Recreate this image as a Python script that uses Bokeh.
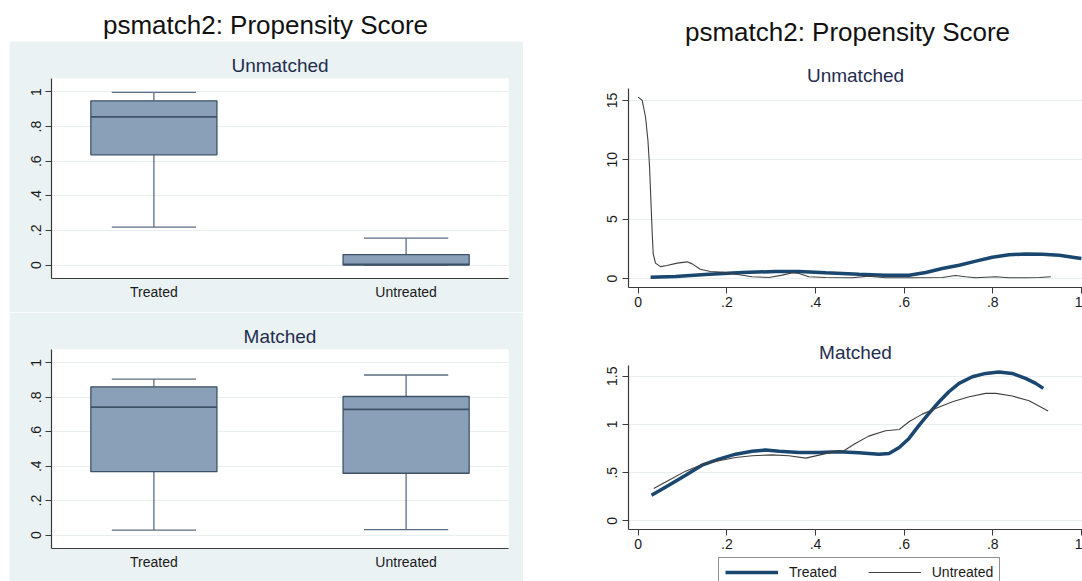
from bokeh.plotting import figure
from bokeh.layouts import row, column
from bokeh.models import Range1d, FixedTicker, Label, Legend, LegendItem, Spacer
from bokeh.embed import file_html
from bokeh.resources import INLINE

FONT = "Liberation Sans"
BG = "#eaf2f3"
GRID = "#e9eff1"
AXIS = "#3a3a3a"
TICKC = "#1a1a1a"
SUBC = "#1f2d4f"
BOX_FILL = "#8aa0b8"
BOX_LINE = "#3e5268"
WHISK = "#5a6d82"
NAVY = "#1a476f"
THIN = "#404040"

# ---------------- data ----------------
main_title = "psmatch2: Propensity Score"
panels = ["Unmatched", "Matched"]
groups = ["Treated", "Untreated"]
group_pos = [1, 2]

# box plot statistics (propensity score)
um_lo = [0.219, 0.0]
um_q1 = [0.637, 0.0]
um_med = [0.856, 0.004]
um_q3 = [0.949, 0.060]
um_hi = [0.998, 0.155]

m_lo = [0.029, 0.032]
m_q1 = [0.368, 0.359]
m_med = [0.743, 0.730]
m_q3 = [0.861, 0.805]
m_hi = [0.906, 0.930]

box_ticks = [0, 0.2, 0.4, 0.6, 0.8, 1]
box_tick_labels = ["0", ".2", ".4", ".6", ".8", "1"]

x_ticks = [0, 0.2, 0.4, 0.6, 0.8, 1]
x_tick_labels = ["0", ".2", ".4", ".6", ".8", "1"]
um_y_ticks = [0, 5, 10, 15]
um_y_tick_labels = ["0", "5", "10", "15"]
m_y_ticks = [0, 0.5, 1, 1.5]
m_y_tick_labels = ["0", ".5", "1", "1.5"]

# kernel densities, unmatched
um_treat_x = [0.028, 0.084, 0.16, 0.235, 0.31, 0.363, 0.423, 0.498, 0.558, 0.611,
              0.649, 0.686, 0.724, 0.762, 0.799, 0.837, 0.874, 0.912, 0.95, 0.984, 1.0]
um_treat_y = [0.11, 0.17, 0.36, 0.50, 0.59, 0.59, 0.48, 0.36, 0.28, 0.28,
              0.50, 0.84, 1.12, 1.46, 1.79, 1.99, 2.07, 2.05, 1.96, 1.77, 1.68]
um_untr_x = [0.0, 0.009, 0.0165, 0.022, 0.0256, 0.0286, 0.0316, 0.0338, 0.039, 0.05,
             0.065, 0.088, 0.11, 0.122, 0.14, 0.163, 0.193, 0.22, 0.257, 0.295,
             0.325, 0.348, 0.363, 0.385, 0.423, 0.483, 0.52, 0.558, 0.611, 0.686,
             0.716, 0.739, 0.762, 0.807, 0.837, 0.874, 0.905, 0.931]
um_untr_y = [15.28, 15.0, 13.6, 11.6, 9.4, 6.6, 3.8, 2.1, 1.29, 1.0,
             1.09, 1.29, 1.40, 1.23, 0.78, 0.59, 0.53, 0.36, 0.14, 0.08,
             0.28, 0.48, 0.42, 0.14, 0.08, 0.06, 0.20, 0.06, 0.06, 0.08,
             0.25, 0.14, 0.06, 0.14, 0.06, 0.06, 0.08, 0.14]

# kernel densities, matched
m_treat_x = [0.03, 0.069, 0.107, 0.144, 0.182, 0.22, 0.257, 0.287, 0.318, 0.363,
             0.408, 0.453, 0.498, 0.543, 0.566, 0.589, 0.611, 0.634, 0.656, 0.679,
             0.701, 0.724, 0.754, 0.784, 0.814, 0.844, 0.874, 0.897, 0.914]
m_treat_y = [0.266, 0.37, 0.474, 0.578, 0.64, 0.692, 0.723, 0.734, 0.723, 0.709,
             0.709, 0.716, 0.706, 0.692, 0.699, 0.761, 0.855, 0.993, 1.114, 1.235,
             1.339, 1.426, 1.495, 1.529, 1.543, 1.529, 1.478, 1.426, 1.374]
m_untr_x = [0.035, 0.069, 0.107, 0.144, 0.182, 0.22, 0.257, 0.302, 0.34, 0.378,
            0.408, 0.438, 0.464, 0.49, 0.52, 0.558, 0.589, 0.611, 0.641, 0.671,
            0.709, 0.747, 0.784, 0.807, 0.844, 0.882, 0.925]
m_untr_y = [0.336, 0.422, 0.516, 0.585, 0.623, 0.657, 0.675, 0.685, 0.675, 0.651,
            0.682, 0.713, 0.727, 0.803, 0.879, 0.934, 0.948, 1.028, 1.107, 1.166,
            1.235, 1.287, 1.322, 1.322, 1.294, 1.246, 1.14]

BOX_W = 0.5
CAP_W = 0.334
TREAT_STYLE = dict(line_color=NAVY, line_width=3.5)
UNTR_STYLE = dict(line_color=THIN, line_width=1.1)

# frame geometry (px) of the two columns
LW, LB_L, LB_R = 514, 42, 15
RW, RB_L, RB_R = 559, 105, 0


def blank_fig(width, height, bl, br):
    fw = width - bl - br
    p = figure(width=width, height=height, x_range=Range1d(0, fw), y_range=Range1d(0, height),
               output_backend="svg", toolbar_location=None, x_axis_location=None, y_axis_location=None,
               min_border_left=bl, min_border_right=br, min_border_top=0, min_border_bottom=0,
               outline_line_color=None, background_fill_color="white",
               border_fill_color="white")
    p.grid.grid_line_color = None
    return p


def title_fig(width, height, bl, br, text, cx, cy):
    p = blank_fig(width, height, bl, br)
    p.add_layout(Label(x=cx, y=cy, text=text, text_align="center", text_baseline="middle",
                       text_font=FONT, text_font_size="26px", text_color="#111111"))
    return p


def style_axes(p):
    for ax in (p.xaxis[0], p.yaxis[0]):
        ax.axis_line_color = AXIS
        ax.axis_line_width = 1.2
        ax.major_tick_line_color = AXIS
        ax.minor_tick_line_color = None
        ax.major_tick_in = 0
        ax.major_label_text_font = FONT
        ax.major_label_text_font_size = "14px"
        ax.major_label_text_color = TICKC
    p.yaxis.major_tick_out = 6
    p.yaxis.major_label_orientation = "vertical"
    p.yaxis.major_label_standoff = 4
    p.title.text_font = FONT
    p.title.text_font_size = "19px"
    p.title.text_font_style = "normal"
    p.title.text_color = SUBC
    p.title.align = "center"
    p.title.standoff = 5


def box_fig(title, lo, q1, med, q3, hi, height, mb_bottom):
    p = figure(width=LW, height=height, title=title,
               x_range=Range1d(0.594, 2.406), y_range=Range1d(-0.078, 1.078),
               output_backend="svg", toolbar_location=None,
               min_border_left=LB_L, min_border_right=LB_R, min_border_top=37,
               min_border_bottom=mb_bottom,
               background_fill_color="white", border_fill_color=BG, outline_line_color=None)
    style_axes(p)
    p.xaxis.ticker = FixedTicker(ticks=group_pos)
    p.xaxis.major_label_overrides = {k: v for k, v in zip(group_pos, groups)}
    p.xaxis.major_tick_out = 0
    p.xaxis.major_label_standoff = 5
    p.yaxis.ticker = FixedTicker(ticks=box_ticks)
    p.yaxis.major_label_overrides = {k: v for k, v in zip(box_ticks, box_tick_labels)}
    p.xgrid.visible = False
    p.ygrid.ticker = FixedTicker(ticks=box_ticks)
    p.ygrid.grid_line_color = GRID

    # whiskers
    p.segment(x0=group_pos, y0=q3, x1=group_pos, y1=hi, line_color=WHISK, line_width=1.3)
    p.segment(x0=group_pos, y0=q1, x1=group_pos, y1=lo, line_color=WHISK, line_width=1.3)
    p.segment(x0=[g - CAP_W / 2 for g in group_pos], y0=hi,
              x1=[g + CAP_W / 2 for g in group_pos], y1=hi, line_color=WHISK, line_width=1.3)
    p.segment(x0=[g - CAP_W / 2 for g in group_pos], y0=lo,
              x1=[g + CAP_W / 2 for g in group_pos], y1=lo, line_color=WHISK, line_width=1.3)
    # boxes
    p.vbar(x=group_pos, width=BOX_W, bottom=q1, top=q3, fill_color=BOX_FILL,
           line_color=BOX_LINE, line_width=1.3)
    p.segment(x0=[g - BOX_W / 2 for g in group_pos], y0=med,
              x1=[g + BOX_W / 2 for g in group_pos], y1=med, line_color=BOX_LINE, line_width=1.8)
    return p


def dens_fig(title, tx, ty, ux, uy, yr, yticks, ylabels, height, mb_top, mb_bottom):
    p = figure(width=RW, height=height, title=title,
               x_range=Range1d(-0.0219, 1.0025), y_range=Range1d(*yr),
               output_backend="svg", toolbar_location=None,
               min_border_left=RB_L, min_border_right=RB_R, min_border_top=mb_top,
               min_border_bottom=mb_bottom,
               background_fill_color="white", border_fill_color="white", outline_line_color=None)
    style_axes(p)
    p.xaxis.ticker = FixedTicker(ticks=x_ticks)
    p.xaxis.major_label_overrides = {k: v for k, v in zip(x_ticks, x_tick_labels)}
    p.xaxis.major_tick_out = 6
    p.xaxis.major_label_standoff = 3
    p.yaxis.ticker = FixedTicker(ticks=yticks)
    p.yaxis.major_label_overrides = {k: v for k, v in zip(yticks, ylabels)}
    p.yaxis.major_label_standoff = 5
    p.xgrid.visible = False
    p.ygrid.ticker = FixedTicker(ticks=yticks)
    p.ygrid.grid_line_color = GRID

    p.line(tx, ty, **TREAT_STYLE)
    p.line(ux, uy, **UNTR_STYLE)
    return p


def legend_fig(height):
    p = blank_fig(RW, height, RB_L, RB_R)
    # the two series again, lying outside this strip's view: only their legend shows
    p.y_range = Range1d(100, 100 + height)
    rt = p.line(m_treat_x, m_treat_y, **TREAT_STYLE)
    ru = p.line(m_untr_x, m_untr_y, **UNTR_STYLE)
    lg = Legend(items=[LegendItem(label=groups[0], renderers=[rt]),
                       LegendItem(label=groups[1], renderers=[ru])],
                orientation="horizontal", location=(90, -6),
                border_line_color="#222222", border_line_width=1.2,
                background_fill_color="white", background_fill_alpha=1,
                glyph_width=53, glyph_height=14, label_height=14, label_standoff=11,
                spacing=31, padding=6, margin=0,
                label_text_font=FONT, label_text_font_size="14px", label_text_color=TICKC)
    p.add_layout(lg)
    return p


L0 = title_fig(LW, 41, LB_L, LB_R, main_title, 214, 17)
L1 = box_fig(panels[0], um_lo, um_q1, um_med, um_q3, um_hi, 271, 34)
L2 = box_fig(panels[1], m_lo, m_q1, m_med, m_q3, m_hi, 269, 33)

R0 = title_fig(RW, 50, RB_L, RB_R, main_title, 219, 19)
R1 = dens_fig(panels[0], um_treat_x, um_treat_y, um_untr_x, um_untr_y, (-0.76, 16.0),
              um_y_ticks, um_y_tick_labels, 270, 38, 33)
R2 = dens_fig(panels[1], m_treat_x, m_treat_y, m_untr_x, m_untr_y, (-0.089, 1.611),
              m_y_ticks, m_y_tick_labels, 237, 45, 28)
R3 = legend_fig(24)

layout = row(Spacer(width=9, height=581), column(L0, L1, L2), column(R0, R1, R2, R3))

open("out.html", "w").write(file_html(layout, INLINE))
